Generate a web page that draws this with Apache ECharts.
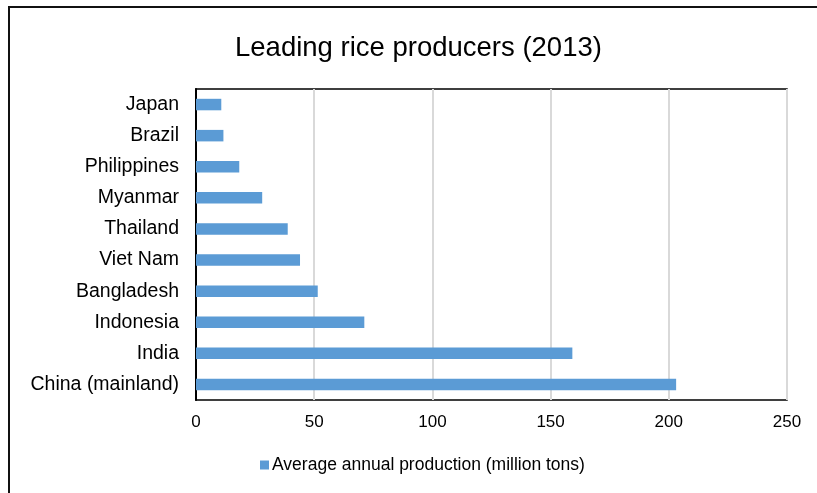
<!DOCTYPE html>
<html>
<head>
<meta charset="utf-8">
<script src="https://cdn.jsdelivr.net/npm/echarts@6/dist/echarts.min.js"></script>
<style>
    html, body { margin: 0; padding: 0; background: #fff; }
    #chart { width: 817px; height: 493px; }
</style>
</head>
<body>
<div id="chart"></div>
<script>
// 数据（从下到上）
const countries = ['China (mainland)', 'India', 'Indonesia', 'Bangladesh', 'Viet Nam', 'Thailand', 'Myanmar', 'Philippines', 'Brazil', 'Japan']
const production = [203.1, 159.2, 71.2, 51.5, 44.0, 38.8, 28.0, 18.3, 11.6, 10.7]
const xTicks = [0, 50, 100, 150, 200, 250]
const seriesName = 'Average annual production (million tons)'

const font = 'Arial, "Liberation Sans", sans-serif'
let chart = echarts.init(document.getElementById('chart'))

let option = {
    animation: false,
    title: {
        text: 'Leading rice producers (2013)',
        left: 230,
        top: 29,
        textStyle: { fontFamily: font, fontSize: 27.5, fontWeight: 'normal', color: '#000' }
    },
    // 外框
    graphic: [{
        type: 'rect',
        shape: { x: 9, y: 7, width: 840, height: 520 },
        style: { fill: 'none', stroke: '#111', lineWidth: 2 },
        silent: true
    }],
    legend: {
        bottom: 14,
        left: 255,
        itemWidth: 9,
        itemHeight: 9,
        itemGap: 10,
        icon: 'rect',
        textStyle: { fontFamily: font, fontSize: 17.5, color: '#000', padding: [0, 0, 0, -2] },
        data: [seriesName]
    },
    grid: {
        left: 196,
        right: 30,
        top: 89,
        bottom: 93,
        show: true,
        borderColor: '#000',
        borderWidth: 1.5,
        containLabel: false
    },
    xAxis: {
        type: 'value',
        min: xTicks[0],
        max: xTicks[xTicks.length - 1],
        interval: 50,
        axisLine: { show: false },
        axisTick: { show: false },
        axisLabel: { fontFamily: font, fontSize: 17, color: '#000', margin: 14 },
        splitLine: { show: true, lineStyle: { color: '#d9d9d9', width: 2 } }
    },
    yAxis: {
        type: 'category',
        data: countries,
        axisLine: { show: true, lineStyle: { color: '#000', width: 2 } },
        axisTick: { show: false },
        axisLabel: { fontFamily: font, fontSize: 19.5, color: '#000', margin: 17 }
    },
    series: [{
        name: seriesName,
        type: 'bar',
        data: production,
        barWidth: '37%',
        itemStyle: { color: '#5b9bd5' }
    }]
}

chart.setOption(option)
</script>
</body>
</html>
